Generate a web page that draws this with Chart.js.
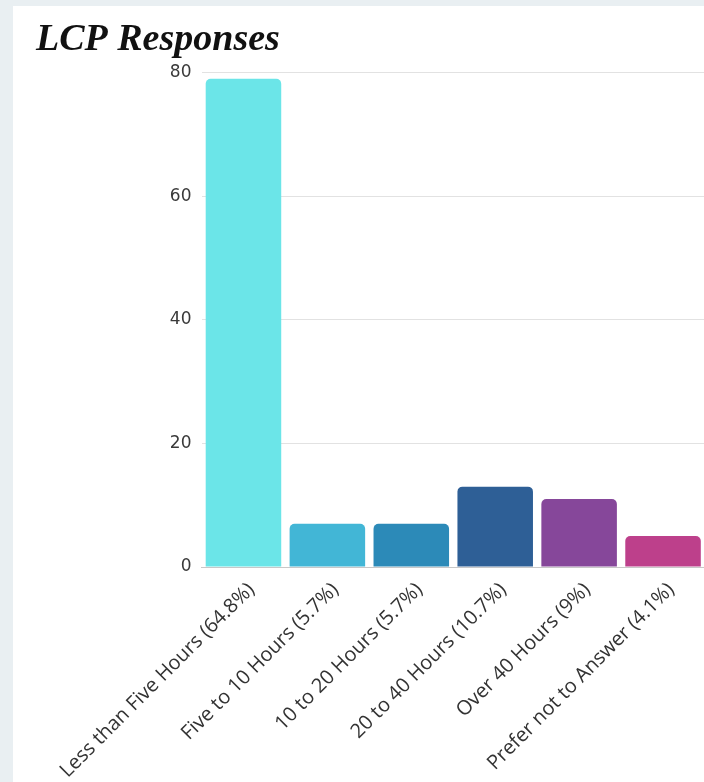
<!DOCTYPE html>
<html>
<head>
<meta charset="utf-8">
<script src="https://cdn.jsdelivr.net/npm/chart.js@4.4.1/dist/chart.umd.min.js"></script>
<style>
  html, body { margin: 0; padding: 0; width: 704px; height: 782px; overflow: hidden; background: #e9eff2; }
  #panel { position: absolute; left: 13px; top: 6px; width: 695px; height: 776px; background: #fff; }
  canvas { display: block; }
</style>
</head>
<body>
<div id="panel"><canvas id="chart" width="695" height="776"></canvas></div>
<script>
  // Survey answers (count per bucket) and share labels
  const categories = [
    'Less than Five Hours (64.8%)',
    'Five to 10 Hours (5.7%)',
    '10 to 20 Hours (5.7%)',
    '20 to 40 Hours (10.7%)',
    'Over 40 Hours (9%)',
    'Prefer not to Answer (4.1%)'
  ];
  const responses = [79, 7, 7, 13, 11, 5];
  const barColors = ['#6be5e8', '#42b6d6', '#2c8ab8', '#2e5f96', '#86479a', '#bd408b'];
  const yTicks = [0, 20, 40, 60, 80];

  const ctx = document.getElementById('chart');
  new Chart(ctx, {
    type: 'bar',
    data: {
      labels: categories,
      datasets: [{
        data: responses,
        backgroundColor: barColors,
        borderRadius: 5,
        barPercentage: 0.9,
        categoryPercentage: 1
      }]
    },
    options: {
      responsive: false,
      animation: false,
      layout: { padding: { left: 23, right: 3, top: 0, bottom: 0 } },
      plugins: {
        legend: { display: false },
        tooltip: { enabled: false },
        title: {
          display: true,
          text: 'LCP Responses',
          align: 'start',
          color: '#111',
          font: { family: '"Liberation Serif", "Times New Roman", serif', size: 38, style: 'italic', weight: 'bold', lineHeight: 1.2 },
          padding: { top: 11, bottom: 10 }
        }
      },
      scales: {
        x: {
          grid: { display: false },
          border: { color: '#c8c8c8' },
          ticks: {
            color: '#333',
            minRotation: 45,
            maxRotation: 45,
            autoSkip: false,
            labelOffset: 8,
            font: { family: '"Open Sans", sans-serif', size: 20 }
          },
          afterFit: (s) => { s.height = 215; }
        },
        y: {
          min: 0,
          max: yTicks[yTicks.length - 1],
          afterBuildTicks: (s) => { s.ticks = yTicks.map(v => ({ value: v })); },
          grid: { color: '#e2e2e2', drawTicks: false },
          border: { display: false },
          ticks: {
            color: '#3a3a3a',
            padding: 10,
            font: { family: '"DejaVu Sans", sans-serif', size: 17 }
          },
          afterFit: (s) => { s.width = 165.5; }
        }
      }
    }
  });
</script>
</body>
</html>
